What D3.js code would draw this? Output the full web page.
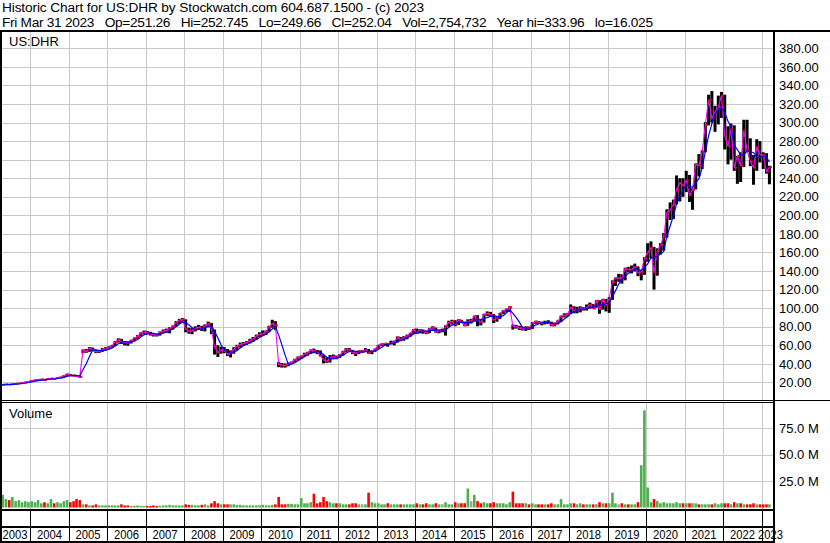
<!DOCTYPE html>
<head>
  <meta charset="utf-8">
  <script src="https://d3js.org/d3.v7.min.js"></script>
  <style>
    body { margin:0; background:#fff; }
    text { font-family: "Liberation Sans", Arial, sans-serif; fill:#000; }
  </style>
</head>

<body>
  <script>

  var width = 830, height = 543;
  var plotRight = 773;
  var priceTop = 31, priceBottom = 400;
  var volTop = 402, volBottom = 509;

  var headerLines = [
    "Historic Chart for US:DHR by Stockwatch.com 604.687.1500 - (c) 2023",
    "Fri Mar 31 2023   Op=251.26   Hi=252.745   Lo=249.66   Cl=252.04   Vol=2,754,732   Year hi=333.96   lo=16.025"
  ];
  var headerWidths = [422, 651];
  var symbol = "US:DHR";

  // monthly bars, Mar 2003 .. Mar 2023
  var firstMonth = new Date(2003, 2, 1);

  var closes = [
    17.2, 17.6, 18.0, 17.8, 18.2, 18.6, 19.0, 19.6, 20.2, 21.0,
    21.8, 22.4, 22.8, 23.3, 22.9, 23.8, 24.3, 24.0, 25.0, 25.6, 27.2, 28.5,
    27.6, 27.2, 26.8, 26.0, 54.5, 53.5, 57.0, 55.0, 53.0, 53.5, 55.5, 56.5,
    57.5, 59.5, 63.5, 66.0, 63.5, 63.0, 62.5, 65.0, 67.5, 70.0, 73.0, 74.5,
    73.5, 72.0, 71.5, 71.0, 74.0, 75.5, 76.0, 78.5, 80.5, 84.5, 87.0, 88.0,
    77.5, 75.0, 76.0, 78.5, 79.5, 77.5, 80.5, 83.5, 78.0, 58.0, 52.0, 55.0,
    54.0, 50.0, 52.0, 56.0, 59.0, 61.0, 62.0, 63.0, 65.0, 67.0, 70.0, 72.0,
    72.5, 74.5, 79.5, 83.5, 81.5, 39.5, 38.5, 38.0, 40.5, 42.0, 44.5, 47.0,
    48.5, 50.5, 52.0, 54.5, 54.0, 53.0, 49.0, 44.0, 42.5, 47.0, 48.0, 47.0,
    49.5, 53.0, 56.0, 54.5, 52.0, 51.5, 53.5, 53.5, 55.0, 52.5, 53.5, 56.0,
    60.0, 61.5, 62.0, 61.5, 62.5, 63.5, 68.5, 66.0, 69.0, 70.0, 73.0, 77.0,
    73.5, 76.5, 75.0, 73.5, 78.0, 79.0, 74.0, 76.0, 76.0, 80.5, 84.5, 86.0,
    82.5, 87.0, 85.0, 81.5, 86.0, 86.0, 91.5, 87.0, 85.0, 93.0, 94.5, 93.0,
    87.0, 89.5, 94.5, 97.0, 99.0, 101.0, 80.5, 80.0, 78.5, 77.5, 79.5, 78.0,
    84.0, 85.5, 84.5, 83.5, 85.0, 84.5, 81.5, 83.0, 86.0, 91.5, 92.5, 93.0,
    101.0, 97.5, 98.0, 100.0, 99.0, 100.5, 104.0, 99.5, 108.0, 99.0, 109.0, 103.0,
    110.5, 128.5, 132.5, 132.5, 132.0, 143.0, 141.5, 142.0, 144.5, 138.0, 139.0, 153.5,
    160.0, 165.0, 138.0, 161.5, 168.0, 177.0, 203.0, 206.0, 212.0, 228.0, 235.0, 232.0,
    237.5, 222.0, 227.5, 255.0, 253.5, 268.5, 297.5, 324.5, 304.5, 311.5, 316.5, 329.0,
    285.5, 274.5, 293.5, 251.0, 264.0, 253.5, 291.5, 270.0, 258.0, 251.5, 273.5, 265.5,
    264.5, 247.5, 252.0
  ];

  var highs = [
    17.8, 18.0, 18.5, 18.4, 18.6, 19.0, 19.5, 20.0, 20.8, 21.5,
    22.3, 23.0, 23.4, 23.9, 23.6, 24.2, 24.9, 24.6, 25.5, 26.2, 27.8, 29.5,
    29.0, 28.2, 27.8, 27.2, 55.5, 56.0, 58.0, 57.5, 55.5, 55.0, 57.0, 58.0,
    59.0, 60.5, 64.5, 67.5, 67.0, 64.5, 64.0, 66.0, 68.5, 71.0, 74.0, 76.0,
    75.5, 74.5, 73.0, 72.5, 75.0, 77.0, 78.0, 79.5, 81.5, 86.0, 88.5, 89.5,
    88.0, 79.0, 78.5, 80.5, 82.0, 81.0, 82.5, 85.5, 84.0, 77.0, 60.0, 58.5,
    58.0, 56.0, 54.5, 58.0, 60.5, 63.0, 63.5, 64.5, 67.0, 69.0, 71.5, 74.0,
    76.0, 76.0, 81.0, 87.5, 86.0, 42.0, 41.0, 40.5, 41.5, 42.5, 45.5, 48.0,
    49.0, 52.0, 53.0, 55.5, 56.5, 55.0, 54.5, 49.5, 47.0, 49.5, 50.0, 49.0,
    50.5, 54.0, 57.0, 57.0, 55.0, 53.0, 54.5, 55.0, 57.0, 56.0, 54.5, 56.5,
    60.5, 62.0, 62.5, 62.5, 65.0, 65.0, 69.5, 69.0, 70.0, 71.5, 73.5, 77.5,
    78.0, 77.5, 77.0, 76.0, 78.5, 80.5, 79.0, 76.5, 78.0, 81.5, 86.5, 87.5,
    87.0, 88.0, 87.5, 85.5, 88.0, 88.5, 92.0, 92.5, 88.5, 94.0, 96.5, 96.0,
    93.5, 90.5, 95.0, 98.0, 99.5, 102.0, 82.5, 82.0, 81.0, 80.0, 80.5, 80.0,
    85.0, 86.5, 86.0, 85.5, 86.5, 87.0, 85.5, 84.5, 87.0, 92.0, 94.5, 94.5,
    104.0, 102.0, 101.5, 102.0, 101.0, 104.0, 106.0, 104.5, 108.5, 108.5, 110.0, 110.0,
    112.0, 130.0, 133.0, 137.0, 136.5, 143.5, 144.5, 146.0, 148.0, 145.0, 140.5, 155.0,
    170.0, 172.0, 166.0, 164.5, 170.0, 181.0, 206.5, 214.0, 217.0, 243.0, 240.0, 240.0,
    248.0, 243.5, 229.0, 256.0, 266.0, 270.0, 300.5, 330.0, 333.96, 318.0, 329.0, 333.0,
    330.0, 296.0, 299.0, 297.0, 264.0, 268.0, 303.0, 303.0, 283.0, 265.0, 282.0, 280.0,
    268.0, 267.0, 253.5
  ];

  var lows = [
    16.0, 16.8, 17.3, 17.2, 17.4, 17.9, 18.4, 18.9, 19.4, 20.0,
    20.8, 21.5, 22.0, 22.5, 22.2, 22.7, 23.6, 23.3, 23.8, 24.7, 25.4, 27.0,
    26.8, 26.5, 25.9, 25.2, 51.5, 52.0, 53.0, 53.5, 51.5, 51.8, 53.0, 54.5,
    55.5, 57.0, 59.0, 63.0, 61.5, 60.0, 59.5, 62.0, 64.5, 67.0, 69.5, 72.0,
    71.5, 70.5, 69.5, 69.5, 70.5, 73.5, 73.5, 73.0, 77.0, 80.0, 83.0, 85.0,
    74.0, 72.5, 72.0, 75.0, 77.0, 75.5, 75.0, 79.5, 72.0, 50.0, 47.5, 51.0,
    51.5, 48.5, 47.0, 51.0, 55.0, 57.5, 59.5, 60.5, 62.0, 64.0, 66.0, 69.0,
    70.0, 71.0, 74.0, 79.0, 76.5, 36.5, 36.0, 36.0, 37.5, 40.0, 41.5, 44.0,
    45.5, 48.0, 49.0, 51.0, 51.5, 50.5, 48.0, 40.5, 41.0, 41.5, 45.5, 45.0,
    46.5, 49.0, 52.5, 53.0, 50.5, 48.5, 50.5, 52.0, 52.5, 51.0, 50.5, 53.0,
    56.5, 59.0, 59.5, 58.5, 61.0, 60.0, 63.0, 64.5, 65.0, 66.5, 69.5, 72.0,
    72.5, 73.0, 72.5, 72.0, 73.0, 77.0, 73.5, 73.0, 74.0, 70.5, 80.0, 82.5,
    80.5, 82.0, 84.0, 80.5, 81.0, 83.5, 85.5, 80.5, 81.5, 84.5, 91.5, 91.0,
    84.0, 85.5, 88.5, 93.5, 95.5, 96.0, 77.0, 78.0, 76.5, 76.0, 75.5, 76.5,
    77.5, 83.0, 83.0, 81.5, 82.5, 83.0, 80.5, 80.5, 82.5, 85.5, 90.0, 91.0,
    93.5, 94.5, 94.5, 95.5, 97.5, 97.5, 99.5, 99.5, 100.5, 94.0, 98.5, 96.5,
    95.0, 109.0, 124.0, 128.5, 126.5, 130.0, 138.5, 137.5, 139.5, 134.5, 130.0, 136.0,
    150.0, 154.0, 120.0, 135.0, 158.0, 162.0, 176.0, 195.0, 196.0, 212.0, 215.0, 220.0,
    225.0, 214.5, 206.0, 228.0, 242.0, 250.0, 268.0, 297.0, 300.0, 290.0, 298.0, 305.0,
    271.0, 255.0, 260.0, 248.0, 234.0, 236.0, 252.0, 268.0, 253.0, 233.0, 248.0, 257.0,
    250.0, 245.0, 233.5
  ];

  // millions of shares
  var volumes = [
    9, 12, 8, 7, 10, 6, 7, 5, 6, 5,
    6, 5, 7, 4, 5, 4, 8, 4, 5, 4, 6, 7,
    5, 6, 8, 7, 3, 3, 2, 2, 3, 2, 2, 2,
    2, 2, 2, 2, 3, 2, 2, 1.5, 1.5, 2, 1.5, 1.5,
    1.5, 1.5, 2, 1.5, 1.5, 2, 2, 2.5, 2, 2, 2, 2,
    3, 2.5, 2.5, 2, 2, 2.5, 3, 2, 4, 6, 4, 3,
    3, 3, 3, 3, 2.5, 2.5, 2, 2, 2, 2, 2, 2,
    2.5, 2, 2, 2.5, 3, 10, 3, 3, 3.5, 3.5, 3, 3,
    9, 4, 4, 5, 13, 4, 5, 10, 6, 5, 4, 4,
    4, 3, 3, 3, 4, 4, 3, 3, 3, 14, 5, 4,
    4, 3, 3, 4, 3, 3, 3, 3, 3, 3, 3, 3,
    4, 3, 3, 4, 3, 3, 4, 3, 3, 5, 3, 3,
    5, 4, 4, 4, 18, 6, 12, 6, 4, 5, 4, 4,
    5, 4, 4, 4, 3, 5, 15, 4, 4, 4, 4, 3,
    4, 3, 3, 3, 3, 3, 4, 3, 3, 8, 3, 3,
    4, 4, 3, 4, 3, 3, 3, 3, 3, 5, 4, 4,
    4, 14, 4, 3, 4, 3, 3, 3, 3, 5, 40, 92,
    19, 5, 8, 6, 4, 5, 4, 4, 4, 5, 4, 4,
    4, 4, 4, 4, 3, 3, 3, 3, 3, 4, 3, 4,
    4, 4, 3, 5, 4, 4, 3, 3, 3, 4, 3, 3,
    3, 3, 3
  ];

  var priceTicks = [20, 40, 60, 80, 100, 120, 140, 160, 180, 200, 220, 240, 260, 280, 300, 320, 340, 360, 380];
  var volumeTicks = [25, 50, 75];
  var yearLabels = [2003, 2004, 2005, 2006, 2007, 2008, 2009, 2010, 2011, 2012, 2013,
                    2014, 2015, 2016, 2017, 2018, 2019, 2020, 2021, 2022, 2023];

  // build monthly records
  var bars = closes.map(function(c, i) {
    var m = d3.timeMonth.offset(firstMonth, i);
    return {
      date: d3.timeDay.offset(m, 14),
      close: c, high: highs[i], low: lows[i], volume: volumes[i],
      prev: i > 0 ? closes[i - 1] : c
    };
  });
  // 4 month moving average
  bars.forEach(function(d, i) {
    var s = closes.slice(Math.max(0, i - 3), i + 1);
    d.ma = d3.mean(s);
  });

  var x = d3.scaleTime()
    .domain([new Date(2003, 2, 20), new Date(2023, 3, 18)])
    .range([0, plotRight]);
  var y = d3.scaleLinear().domain([0, 380]).range([401, 48.3]);
  var yv = d3.scaleLinear().domain([0, 75]).range([507.5, 428.3]);

  var svg = d3.select("body").append("svg")
    .attr("width", width)
    .attr("height", height)
    .style("display", "block");

  svg.append("rect").attr("width", width).attr("height", height).attr("fill", "#fff");

  // header
  svg.selectAll(".hdr")
    .data(headerLines)
    .enter()
    .append("text")
    .attr("x", 2)
    .attr("y", function(d, i) { return 12 + i * 14.5; })
    .attr("font-size", 13.7)
    .attr("textLength", function(d, i) { return headerWidths[i]; })
    .attr("lengthAdjust", "spacing")
    .style("white-space", "pre")
    .text(function(d) { return d; });

  svg.append("clipPath").attr("id", "pclip")
    .append("rect").attr("x", 1).attr("y", priceTop).attr("width", plotRight - 1).attr("height", priceBottom - priceTop);
  svg.append("clipPath").attr("id", "vclip")
    .append("rect").attr("x", 1).attr("y", volTop).attr("width", plotRight - 1).attr("height", volBottom - volTop);

  var boundaries = yearLabels.slice(1).map(function(yr) { return new Date(yr, 0, 1); });
  function px(v) { return Math.round(v) + 0.5; }

  // grid
  var grid = svg.append("g").attr("stroke", "#c8c8c8").attr("stroke-width", 1).attr("shape-rendering", "crispEdges");
  boundaries.forEach(function(b) {
    grid.append("line").attr("x1", px(x(b))).attr("x2", px(x(b))).attr("y1", priceTop).attr("y2", priceBottom);
    grid.append("line").attr("x1", px(x(b))).attr("x2", px(x(b))).attr("y1", volTop).attr("y2", volBottom);
  });
  priceTicks.forEach(function(t) {
    grid.append("line").attr("x1", 0).attr("x2", plotRight).attr("y1", px(y(t))).attr("y2", px(y(t)));
  });
  volumeTicks.forEach(function(t) {
    grid.append("line").attr("x1", 0).attr("x2", plotRight).attr("y1", px(yv(t))).attr("y2", px(yv(t)));
  });

  // price bars
  var pg = svg.append("g").attr("clip-path", "url(#pclip)");
  pg.selectAll(".hl")
    .data(bars)
    .enter()
    .append("rect")
    .attr("x", function(d) { return x(d.date) - 1.5; })
    .attr("width", 3)
    .attr("y", function(d) { return y(d.high); })
    .attr("height", function(d) { return Math.max(1, y(d.low) - y(d.high)); })
    .attr("fill", "#000");

  pg.selectAll(".cl")
    .data(bars)
    .enter()
    .append("rect")
    .attr("x", function(d) { return x(d.date) + 0.5; })
    .attr("width", 2)
    .attr("y", function(d) { return y(d.close) - 1; })
    .attr("height", 2)
    .attr("fill", "#ff0000");

  pg.append("path")
    .datum(bars)
    .attr("fill", "none")
    .attr("stroke", "#ff00ff")
    .attr("stroke-width", 1.1)
    .attr("d", d3.line().x(function(d) { return x(d.date); }).y(function(d) { return y(d.close); }));

  pg.append("path")
    .datum(bars)
    .attr("fill", "none")
    .attr("stroke", "#0000ff")
    .attr("stroke-width", 1.2)
    .attr("d", d3.line().x(function(d) { return x(d.date); }).y(function(d) { return y(d.ma); }));

  // volume bars
  var vg = svg.append("g").attr("clip-path", "url(#vclip)");
  vg.selectAll(".vb")
    .data(bars)
    .enter()
    .append("rect")
    .attr("x", function(d) { return x(d.date) - 1.3; })
    .attr("width", 2.6)
    .attr("y", function(d) { return yv(d.volume); })
    .attr("height", function(d) { return yv(0) - yv(d.volume); })
    .attr("fill", function(d) {
      if (d.close > d.prev) return "#4cb04c";
      if (d.close < d.prev) return "#ff0000";
      return "#a0a0a0";
    });

  // panel labels
  svg.append("text").attr("x", 9).attr("y", 46).attr("font-size", 13).text(symbol);
  svg.append("text").attr("x", 9).attr("y", 418).attr("font-size", 13).text("Volume");

  // right axes
  var priceAxis = svg.append("g")
    .attr("transform", "translate(779,0)")
    .call(d3.axisRight(y).tickValues(priceTicks).tickSize(0).tickPadding(0).tickFormat(d3.format(".2f")));
  priceAxis.select(".domain").remove();
  priceAxis.attr("font-size", 13).attr("font-family", '"Liberation Sans", Arial, sans-serif');
  priceAxis.selectAll("text").attr("fill", "#000");

  var volAxis = svg.append("g")
    .attr("transform", "translate(779,0)")
    .call(d3.axisRight(yv).tickValues(volumeTicks).tickSize(0).tickPadding(0)
      .tickFormat(function(d) { return d.toFixed(1) + " M"; }));
  volAxis.select(".domain").remove();
  volAxis.attr("font-size", 13).attr("font-family", '"Liberation Sans", Arial, sans-serif');
  volAxis.selectAll("text").attr("fill", "#000");

  // year labels, centred on the visible part of each year,
  // nudged right when they would run into the previous one
  var labelW = 25;
  var labelX = [];
  yearLabels.forEach(function(yr, i) {
    var a = Math.max(0, x(new Date(yr, 0, 1)));
    var b = Math.min(plotRight, x(new Date(yr + 1, 0, 1)));
    var cx = (a + b) / 2;
    if (i > 0 && cx - labelW / 2 < labelX[i - 1] + labelW / 2 + 3) {
      cx = labelX[i - 1] + labelW + 3;
    }
    labelX.push(cx);
  });
  svg.selectAll(".yr")
    .data(yearLabels)
    .enter()
    .append("text")
    .attr("x", function(d, i) { return labelX[i]; })
    .attr("y", 539)
    .attr("text-anchor", "middle")
    .attr("font-size", 13.5)
    .attr("textLength", labelW)
    .attr("lengthAdjust", "spacingAndGlyphs")
    .text(function(d) { return d; });

  // frame
  var frame = svg.append("g").attr("stroke", "#000").attr("shape-rendering", "crispEdges");
  frame.append("line").attr("x1", 0).attr("x2", width).attr("y1", 30.5).attr("y2", 30.5).attr("stroke-width", 2);
  frame.append("line").attr("x1", 1).attr("x2", 1).attr("y1", 30).attr("y2", 543).attr("stroke-width", 2);
  frame.append("line").attr("x1", 774).attr("x2", 774).attr("y1", 30).attr("y2", 543).attr("stroke-width", 2);
  frame.append("line").attr("x1", 0).attr("x2", width).attr("y1", 400.5).attr("y2", 400.5).attr("stroke-width", 1);
  frame.append("line").attr("x1", 0).attr("x2", plotRight).attr("y1", 402.5).attr("y2", 402.5).attr("stroke-width", 1);
  frame.append("line").attr("x1", 0).attr("x2", plotRight).attr("y1", 509.5).attr("y2", 509.5).attr("stroke-width", 2);
  frame.append("line").attr("x1", 0).attr("x2", plotRight).attr("y1", 526.5).attr("y2", 526.5).attr("stroke-width", 2);
  frame.append("line").attr("x1", 0).attr("x2", plotRight).attr("y1", 541.5).attr("y2", 541.5).attr("stroke-width", 2);
  boundaries.forEach(function(b) {
    frame.append("line").attr("x1", px(x(b))).attr("x2", px(x(b))).attr("y1", 509).attr("y2", 541)
      .attr("stroke-width", 1.5);
  });

  </script>
</body>
